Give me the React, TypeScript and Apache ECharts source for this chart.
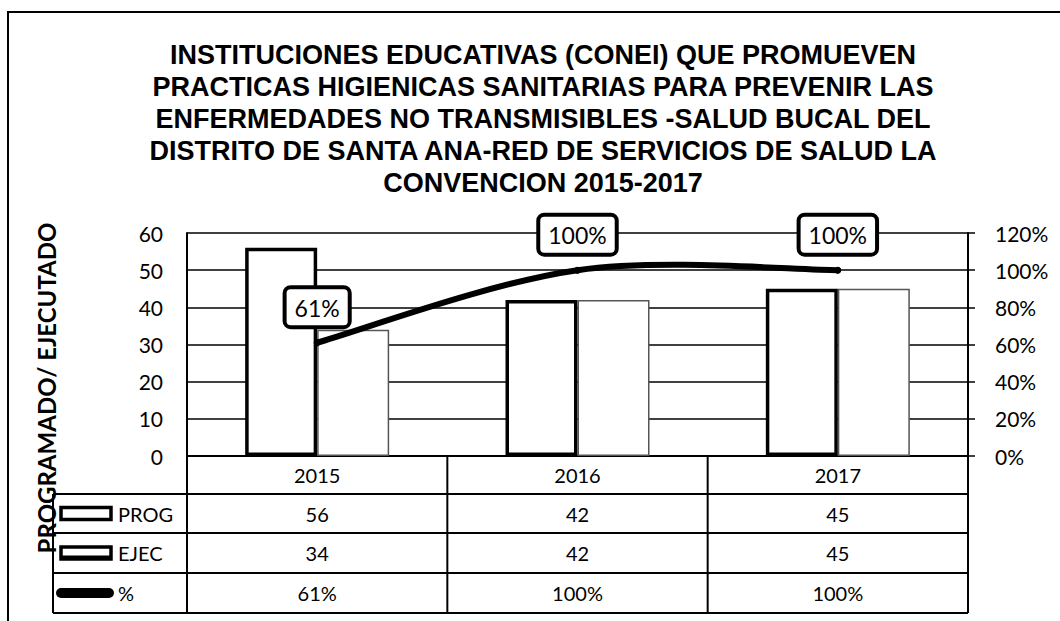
import React, { useEffect, useRef } from "react";
import * as echarts from "echarts";

const categories = ["2015", "2016", "2017"];
const progValues = [56, 42, 45];
const ejecValues = [34, 42, 45];
const pctValues = [61, 100, 100];
const pctLabels = ["61%", "100%", "100%"];
const rowNames = ["PROG", "EJEC", "%"];
const titleLines = [
  "INSTITUCIONES EDUCATIVAS (CONEI) QUE PROMUEVEN",
  "PRACTICAS HIGIENICAS SANITARIAS PARA PREVENIR LAS",
  "ENFERMEDADES NO TRANSMISIBLES -SALUD BUCAL DEL",
  "DISTRITO DE SANTA ANA-RED DE SERVICIOS DE SALUD LA",
  "CONVENCION 2015-2017",
];
const yAxisName = "PROGRAMADO/ EJECUTADO";

const W = 1060;
const H = 621;
const GL = 187;
const GR = 968;
const GT = 233;
const GB = 456;
const ROWS = [456, 494, 533, 573, 613];
const TABLE_LEFT = 53;
const FONT = "Lato, 'Open Sans', sans-serif";

export default function App() {
  const ref = useRef<HTMLDivElement>(null);
  useEffect(() => {
    if (!ref.current) return;
    const chart = echarts.init(ref.current, null, { renderer: "svg" });
    const option: any = {
      animation: false,
      backgroundColor: "#fff",
      grid: { left: GL, right: W - GR, top: GT, bottom: H - GB, containLabel: false },
      xAxis: {
        type: "category",
        data: categories,
        axisLine: { show: true, lineStyle: { color: "#000", width: 2 } },
        axisTick: { show: false },
        axisLabel: { color: "#000", fontSize: 20, fontFamily: FONT, margin: 9 },
      },
      yAxis: [
        {
          type: "value",
          min: 0,
          max: 60,
          interval: 10,
          axisLine: { show: true, lineStyle: { color: "#000", width: 2 } },
          axisTick: { show: false },
          axisLabel: { color: "#000", fontSize: 21, fontFamily: FONT, margin: 24 },
          splitLine: { show: true, lineStyle: { color: "#000", width: 1.5 } },
        },
        {
          type: "value",
          position: "right",
          min: 0,
          max: 120,
          interval: 20,
          axisLine: { show: true, lineStyle: { color: "#000", width: 2 } },
          axisTick: { show: true, inside: false, length: 7, lineStyle: { color: "#000", width: 1.5 } },
          axisLabel: { color: "#000", fontSize: 21, fontFamily: FONT, margin: 27, formatter: "{value}%" },
          splitLine: { show: false },
        },
      ],
      series: [
        {
          name: "PROG",
          type: "bar",
          data: progValues,
          barWidth: 72,
          barGap: "0%",
          itemStyle: { color: "#fff", borderColor: "#000", borderWidth: 3.5 },
        },
        {
          name: "EJEC",
          type: "bar",
          data: ejecValues,
          barWidth: 72,
          itemStyle: { color: "#fff", borderColor: "#555", borderWidth: 1.5 },
        },
        {
          name: "%curve",
          type: "custom",
          xAxisIndex: 0,
          yAxisIndex: 1,
          z: 4,
          data: pctValues.map((v, i) => [i, v]),
          encode: { x: 0, y: 1 },
          renderItem: (params: any, api: any) => {
            const i = params.dataIndex;
            const n = pctValues.length;
            if (i >= n - 1) return null;
            const pts = pctValues.map((v, k) => api.coord([k, v]));
            const p = (k: number) => pts[Math.max(0, Math.min(n - 1, k))];
            const p0 = p(i - 1), p1 = p(i), p2 = p(i + 1), p3 = p(i + 2);
            return {
              type: "bezierCurve",
              shape: {
                x1: p1[0],
                y1: p1[1],
                cpx1: p1[0] + (p2[0] - p0[0]) / 6,
                cpy1: p1[1] + (p2[1] - p0[1]) / 6,
                cpx2: p2[0] - (p3[0] - p1[0]) / 6,
                cpy2: p2[1] - (p3[1] - p1[1]) / 6,
                x2: p2[0],
                y2: p2[1],
              },
              style: { fill: "none", stroke: "#000", lineWidth: 6, lineCap: "round" },
            };
          },
        },
        {
          name: "%",
          type: "line",
          yAxisIndex: 1,
          data: pctValues,
          symbol: "circle",
          symbolSize: 7,
          itemStyle: { color: "#000" },
          lineStyle: { width: 0, opacity: 0 },
          z: 5,
          label: {
            show: true,
            position: "top",
            distance: 14,
            formatter: (p: any) => pctLabels[p.dataIndex],
            color: "#000",
            fontSize: 23,
            fontFamily: FONT,
            backgroundColor: "#fff",
            borderColor: "#000",
            borderWidth: 4,
            borderRadius: 4,
            padding: [7, 8, 6, 8],
          },
        },
      ],
    };
    chart.setOption(option);

    const centers = categories.map((c) => (chart.convertToPixel({ xAxisIndex: 0 }, c) as number));
    const band = (GR - GL) / categories.length;
    const g: any[] = [];
    g.push({ type: "rect", shape: { x: 8, y: 12, width: 1080, height: 640 }, style: { fill: "none", stroke: "#000", lineWidth: 2 }, silent: true });
    g.push({
      type: "text",
      x: 543,
      y: 39,
      style: {
        text: titleLines.join("\n"),
        textAlign: "center",
        textVerticalAlign: "top",
        font: "bold 27px 'Liberation Sans', Arial, sans-serif",
        lineHeight: 32,
        fill: "#000",
      },
    });
    g.push({
      type: "text",
      x: 46,
      y: 388,
      rotation: Math.PI / 2,
      style: {
        text: yAxisName,
        textAlign: "center",
        textVerticalAlign: "middle",
        font: "bold 24px Lato, sans-serif",
        fill: "#000",
      },
    });
    for (let i = 1; i < ROWS.length; i++) {
      g.push({ type: "line", shape: { x1: TABLE_LEFT, y1: ROWS[i], x2: GR, y2: ROWS[i] }, style: { stroke: "#000", lineWidth: 2 } });
    }
    g.push({ type: "line", shape: { x1: TABLE_LEFT, y1: ROWS[1], x2: TABLE_LEFT, y2: ROWS[4] }, style: { stroke: "#000", lineWidth: 2 } });
    const bounds = [centers[0] - band / 2, ...centers.map((c) => c + band / 2)];
    bounds.forEach((bx) => {
      g.push({ type: "line", shape: { x1: bx, y1: ROWS[0], x2: bx, y2: ROWS[4] }, style: { stroke: "#000", lineWidth: 2 } });
    });
    const rowData = [progValues.map(String), ejecValues.map(String), pctLabels];
    rowData.forEach((vals, r) => {
      const cy = (ROWS[r + 1] + ROWS[r + 2]) / 2;
      vals.forEach((v, i) => {
        g.push({
          type: "text",
          x: centers[i],
          y: cy,
          style: { text: v, textAlign: "center", textVerticalAlign: "middle", font: `20px ${FONT}`, fill: "#000" },
        });
      });
      g.push({
        type: "text",
        x: 118,
        y: cy,
        style: { text: rowNames[r], textAlign: "left", textVerticalAlign: "middle", font: `20px ${FONT}`, fill: "#000" },
      });
      if (r === 0) {
        g.push({ type: "rect", shape: { x: 61, y: cy - 6, width: 50, height: 12 }, style: { fill: "#fff", stroke: "#000", lineWidth: 3.5 } });
      } else if (r === 1) {
        g.push({ type: "rect", shape: { x: 61, y: cy - 6, width: 50, height: 12 }, style: { fill: "#fff", stroke: "#000", lineWidth: 3.5 } });
        g.push({ type: "line", shape: { x1: 61, y1: cy + 4, x2: 111, y2: cy + 4 }, style: { stroke: "#000", lineWidth: 3 } });
      } else {
        g.push({ type: "rect", shape: { x: 56, y: cy - 5, width: 58, height: 10, r: 5 }, style: { fill: "#000" } });
      }
    });
    chart.setOption({ graphic: g });

    return () => chart.dispose();
  }, []);
  return (
    <div
      ref={ref}
      style={{ position: "absolute", left: 0, top: 0, width: W, height: H, background: "#fff" }}
    />
  );
}
